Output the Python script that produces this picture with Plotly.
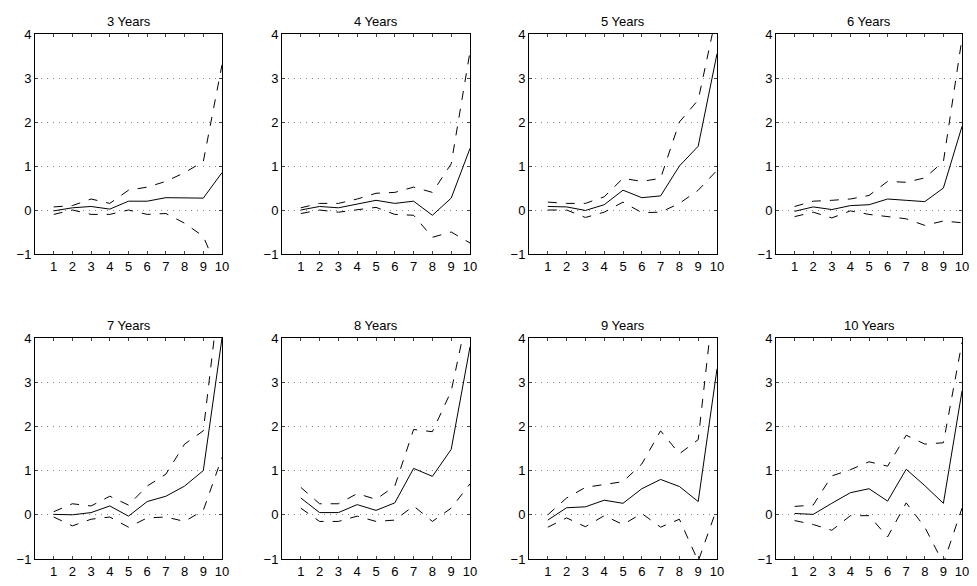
import plotly.graph_objects as go

steps = list(range(1, 11))
titles = ["3 Years", "4 Years", "5 Years", "6 Years", "7 Years", "8 Years", "9 Years", "10 Years"]

mid_3 = [-0.02, 0.05, 0.08, 0.02, 0.2, 0.2, 0.28, 0.28, 0.27, 0.85]
up_3 = [0.07, 0.1, 0.25, 0.15, 0.45, 0.52, 0.65, 0.85, 1.1, 3.3]
lo_3 = [-0.1, 0.0, -0.1, -0.1, 0.0, -0.1, -0.08, -0.3, -0.6, -1.6]

mid_4 = [0.0, 0.08, 0.05, 0.13, 0.22, 0.15, 0.2, -0.12, 0.27, 1.4]
up_4 = [0.05, 0.15, 0.15, 0.25, 0.38, 0.4, 0.52, 0.4, 1.05, 3.6]
lo_4 = [-0.08, 0.0, -0.05, 0.0, 0.06, -0.1, -0.12, -0.62, -0.5, -0.75]

mid_5 = [0.08, 0.07, -0.01, 0.12, 0.45, 0.28, 0.32, 1.0, 1.45, 3.55]
up_5 = [0.18, 0.15, 0.15, 0.3, 0.72, 0.65, 0.72, 2.0, 2.5, 4.5]
lo_5 = [0.0, 0.0, -0.17, -0.05, 0.18, -0.06, -0.05, 0.15, 0.45, 0.9]

mid_6 = [-0.03, 0.07, 0.01, 0.1, 0.12, 0.25, 0.22, 0.19, 0.5, 1.9]
up_6 = [0.08, 0.2, 0.22, 0.25, 0.33, 0.65, 0.63, 0.73, 1.1, 3.9]
lo_6 = [-0.15, -0.05, -0.18, -0.02, -0.1, -0.15, -0.2, -0.35, -0.25, -0.29]

mid_7 = [0.01, 0.0, 0.05, 0.2, -0.03, 0.3, 0.42, 0.65, 1.0, 4.0]
up_7 = [0.07, 0.25, 0.2, 0.42, 0.22, 0.65, 0.92, 1.6, 1.9, 5.5]
lo_7 = [-0.05, -0.25, -0.1, -0.05, -0.28, -0.07, -0.05, -0.15, 0.1, 1.3]

mid_8 = [0.38, 0.05, 0.05, 0.23, 0.1, 0.27, 1.05, 0.87, 1.48, 3.8]
up_8 = [0.62, 0.25, 0.25, 0.48, 0.35, 0.65, 1.93, 1.88, 2.8, 4.8]
lo_8 = [0.15, -0.15, -0.15, -0.03, -0.15, -0.12, 0.2, -0.15, 0.15, 0.7]

mid_9 = [-0.12, 0.16, 0.18, 0.33, 0.26, 0.59, 0.8, 0.64, 0.3, 3.3]
up_9 = [0.0, 0.38, 0.62, 0.68, 0.75, 1.15, 1.9, 1.38, 1.7, 5.5]
lo_9 = [-0.28, -0.07, -0.27, -0.02, -0.22, 0.03, -0.28, -0.1, -1.05, 0.15]

mid_10 = [0.03, 0.01, 0.26, 0.5, 0.59, 0.31, 1.03, 0.66, 0.26, 2.8]
up_10 = [0.19, 0.22, 0.88, 1.02, 1.2, 1.1, 1.8, 1.6, 1.63, 3.9]
lo_10 = [-0.13, -0.22, -0.35, -0.02, -0.02, -0.5, 0.27, -0.28, -1.1, 0.15]

panels = [(mid_3, up_3, lo_3), (mid_4, up_4, lo_4), (mid_5, up_5, lo_5), (mid_6, up_6, lo_6),
          (mid_7, up_7, lo_7), (mid_8, up_8, lo_8), (mid_9, up_9, lo_9), (mid_10, up_10, lo_10)]

# panel boxes in reference pixels; the page body adds an 8px offset
OFF = 8
W, H = 969, 578
ML, MR, MT, MB = 22, 2, 17, 12
PW, PH = W - ML - MR, H - MT - MB
xcols = [(35, 222), (282, 470), (529, 717), (776, 962)]
yrows = [(34, 254), (338, 559)]

fig = go.Figure()
font = dict(family="Liberation Sans, Arial, sans-serif", size=13, color="black")
annotations = []
for i, (mid, up, lo) in enumerate(panels):
    r, c = divmod(i, 4)
    n = "" if i == 0 else str(i + 1)
    xa, ya = "x" + n, "y" + n
    for ys, dash in [(up, "dash"), (lo, "dash"), (mid, "solid")]:
        fig.add_trace(go.Scatter(x=steps, y=ys, mode="lines", xaxis=xa, yaxis=ya,
                                 line=dict(color="black", width=1, dash=dash), showlegend=False))
    x0, x1 = [v - OFF for v in xcols[c]]
    y0, y1 = [v - OFF for v in yrows[r]]
    dom_x = [(x0 - ML) / PW, (x1 - ML) / PW]
    dom_y = [(H - MB - y1) / PH, (H - MB - y0) / PH]
    fig.layout["xaxis" + n] = dict(domain=dom_x, range=[0, 10], tickvals=steps, anchor=ya,
                                   showgrid=False, zeroline=False, showline=True, linecolor="black",
                                   mirror="ticks", ticks="inside", ticklen=3, tickfont=font,
                                   automargin=False)
    fig.layout["yaxis" + n] = dict(domain=dom_y, range=[-1, 4], tickvals=[-1, 0, 1, 2, 3, 4],
                                   ticktext=["\u22121", "0", "1", "2", "3", "4"], anchor=xa,
                                   showgrid=True, gridcolor="#888", griddash="1px,5px", gridwidth=1,
                                   zeroline=False, showline=True, linecolor="black",
                                   mirror="ticks", ticks="inside", ticklen=3, tickfont=font,
                                   automargin=False)
    annotations.append(dict(text=titles[i], x=(dom_x[0] + dom_x[1]) / 2, y=dom_y[1],
                            xref="paper", yref="paper", xanchor="center", yanchor="bottom",
                            yshift=3, showarrow=False,
                            font=dict(family="Liberation Sans, Arial, sans-serif", size=13,
                                      color="black")))

fig.update_layout(width=W, height=H, margin=dict(l=ML, r=MR, t=MT, b=MB, autoexpand=False),
                  plot_bgcolor="white", paper_bgcolor="white", annotations=annotations)
fig.write_html("out.html")
